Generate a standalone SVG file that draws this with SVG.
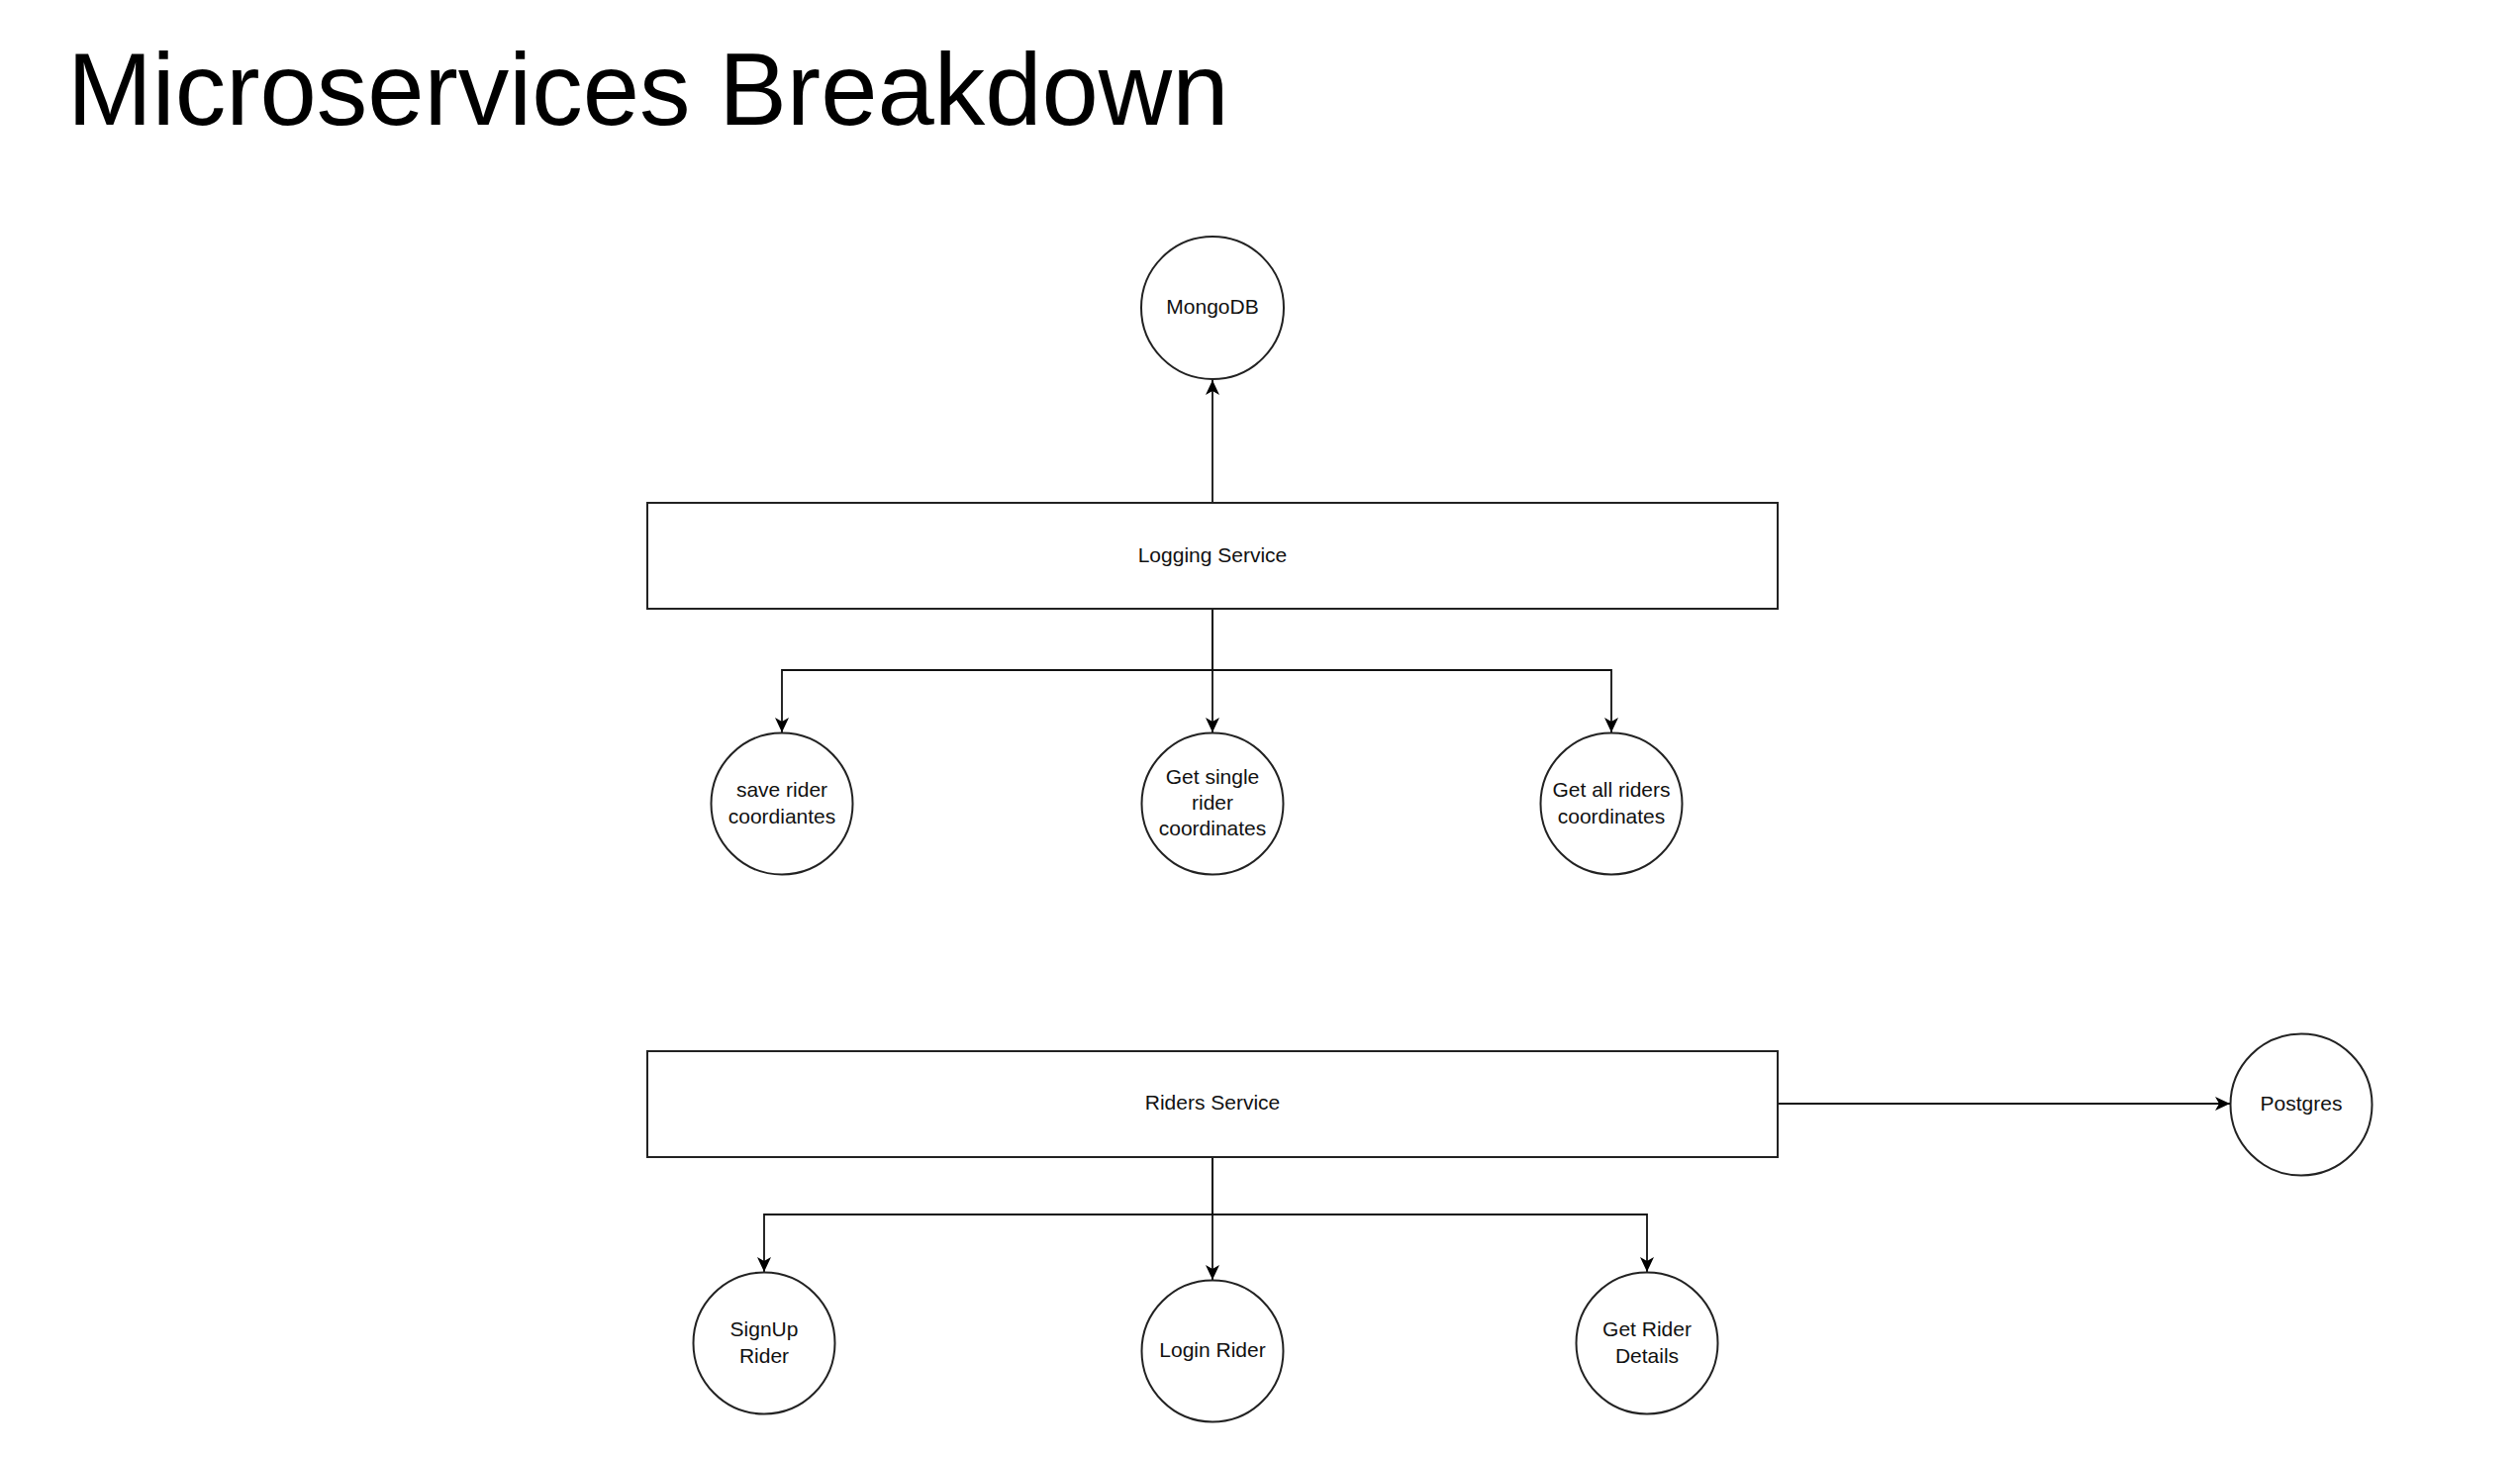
<svg xmlns="http://www.w3.org/2000/svg" width="2546" height="1472" viewBox="0 0 2546 1472">
<style>
.title{font-family:"Liberation Sans",Arial,sans-serif;font-size:103px;fill:#000}
.lbl{font-family:"Liberation Sans",Arial,sans-serif;font-size:21px;fill:#111;text-anchor:middle;dominant-baseline:central}
.shape{fill:#fff;stroke:#222;stroke-width:2}
.edge{fill:none;stroke:#111;stroke-width:1.8}
</style>
<defs>
<marker id="arr" markerUnits="userSpaceOnUse" markerWidth="16" markerHeight="14" refX="15" refY="7" orient="auto">
<path d="M0,0 L15,7 L0,14 L4,7 Z" fill="#000"/>
</marker>
</defs>
<rect width="2546" height="1472" fill="#fff"/>
<text class="title" x="68" y="126">Microservices Breakdown</text>
<g id="connectors">
<path class="edge" d="M1225,508 V384" marker-end="url(#arr)"/>
<path class="edge" d="M1225,615 V677 H790 V740" marker-end="url(#arr)"/>
<path class="edge" d="M1225,615 V740" marker-end="url(#arr)"/>
<path class="edge" d="M1225,615 V677 H1628 V740" marker-end="url(#arr)"/>
<path class="edge" d="M1225,1169 V1227 H772 V1285" marker-end="url(#arr)"/>
<path class="edge" d="M1225,1169 V1293" marker-end="url(#arr)"/>
<path class="edge" d="M1225,1169 V1227 H1664 V1285" marker-end="url(#arr)"/>
<path class="edge" d="M1796,1115 H2253" marker-end="url(#arr)"/>
</g>
<g id="mongodb">
<circle class="shape" cx="1225" cy="311" r="72"/>
<text class="lbl" x="1225" y="309">MongoDB</text>
</g>
<g id="logging-service">
<rect class="shape" x="654" y="508" width="1142" height="107"/>
<text class="lbl" x="1225" y="560">Logging Service</text>
</g>
<g id="save-rider-coordinates">
<circle class="shape" cx="790" cy="812" r="71.5"/>
<text class="lbl" x="790" y="797">save rider</text>
<text class="lbl" x="790" y="824">coordiantes</text>
</g>
<g id="get-single-rider-coordinates">
<circle class="shape" cx="1225" cy="812" r="71.5"/>
<text class="lbl" x="1225" y="784">Get single</text>
<text class="lbl" x="1225" y="810">rider</text>
<text class="lbl" x="1225" y="836">coordinates</text>
</g>
<g id="get-all-riders-coordinates">
<circle class="shape" cx="1628" cy="812" r="71.5"/>
<text class="lbl" x="1628" y="797">Get all riders</text>
<text class="lbl" x="1628" y="824">coordinates</text>
</g>
<g id="riders-service">
<rect class="shape" x="654" y="1062" width="1142" height="107"/>
<text class="lbl" x="1225" y="1113">Riders Service</text>
</g>
<g id="postgres">
<circle class="shape" cx="2325" cy="1116" r="71.5"/>
<text class="lbl" x="2325" y="1114">Postgres</text>
</g>
<g id="signup-rider">
<circle class="shape" cx="772" cy="1357" r="71.5"/>
<text class="lbl" x="772" y="1342">SignUp</text>
<text class="lbl" x="772" y="1369">Rider</text>
</g>
<g id="login-rider">
<circle class="shape" cx="1225" cy="1365" r="71.5"/>
<text class="lbl" x="1225" y="1363">Login Rider</text>
</g>
<g id="get-rider-details">
<circle class="shape" cx="1664" cy="1357" r="71.5"/>
<text class="lbl" x="1664" y="1342">Get Rider</text>
<text class="lbl" x="1664" y="1369">Details</text>
</g>
</svg>
